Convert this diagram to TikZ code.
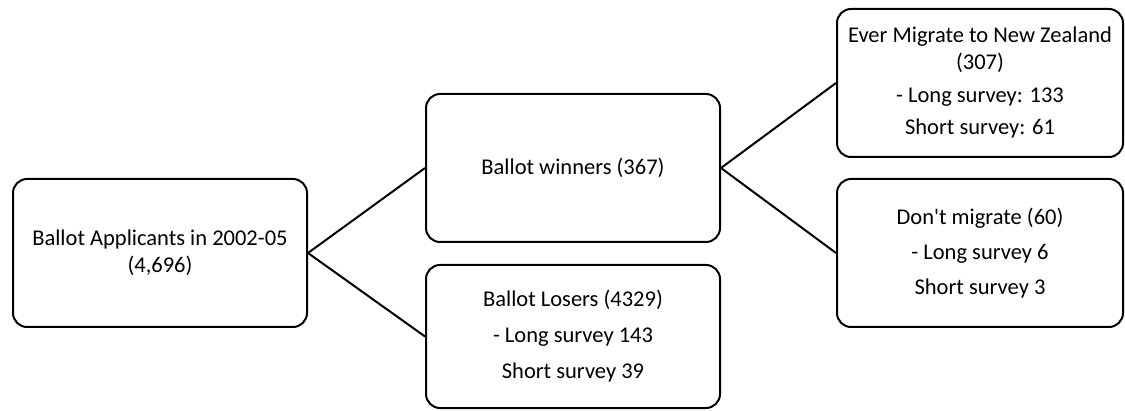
\documentclass[tikz,border=0pt]{standalone}
\usepackage{fontspec}
\setmainfont{Carlito}
\begin{document}
\begin{tikzpicture}[x=1pt,y=1pt,
  box/.style={draw=black, line width=2pt, rounded corners=14pt, align=center,
    font=\fontsize{22.5}{27}\selectfont, inner sep=0pt},
  link/.style={draw=black, line width=2pt}]
\useasboundingbox (0,0) rectangle (1125,410);
\node[box, minimum width=294pt, minimum height=148pt] (A) at (160,157)
  {Ballot Applicants in 2002-05\\(4,696)};
\node[box, minimum width=294pt, minimum height=148pt] (B) at (573,242)
  {Ballot winners (367)};
\node[box, minimum width=294pt, minimum height=143pt] (C) at (573,73.5)
  {Ballot Losers (4329)\\[9pt]- Long survey 143\\[9pt]Short survey 39};
\node[box, minimum width=286pt, minimum height=148pt] (D) at (980,327)
  {Ever Migrate to New Zealand\\(307)\\[6pt]- Long survey: 133\\[5pt]Short survey: 61};
\node[box, minimum width=286pt, minimum height=148pt] (E) at (980,157)
  {Don\textquotesingle t migrate (60)\\[8pt]- Long survey 6\\[8pt]Short survey 3};
\draw[link] (A.east) -- (B.west);
\draw[link] (A.east) -- (C.west);
\draw[link] (B.east) -- (D.west);
\draw[link] (B.east) -- (E.west);
\end{tikzpicture}
\end{document}
